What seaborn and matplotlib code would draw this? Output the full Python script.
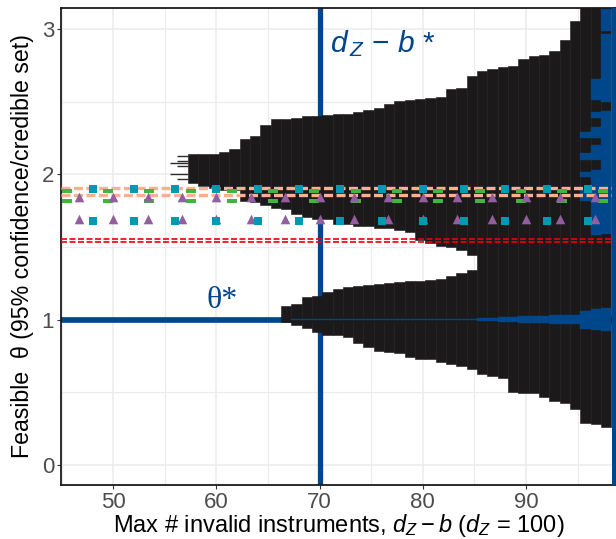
import matplotlib
matplotlib.use("Agg")
import matplotlib.pyplot as plt
import numpy as np
import pandas as pd
import seaborn as sns

# lancet-like palette used in the figure
BLUE = "#00468B"
RED = "#ED0000"
GREEN = "#42B540"
TEAL = "#0099B4"
PURPLE = "#925E9F"
SALMON = "#FDAF91"
BLACK = "#1B1919"

# ---- feasible set (black), one column per value of d_Z - b ----
col_left = [57.25 + i for i in range(41)]          # 57.25 .. 97.25
upper_top = [2.14, 2.14, 2.14, 2.157, 2.175, 2.242, 2.265, 2.34, 2.38, 2.385,
             2.39, 2.40, 2.405, 2.41, 2.414, 2.42, 2.428, 2.444, 2.46, 2.485,
             2.506, 2.512, 2.52, 2.529, 2.533, 2.586, 2.595, 2.676, 2.71, 2.728,
             2.742, 2.75, 2.797, 2.816, 2.823, 2.85, 2.926, 3.059, 3.4, 3.4, 3.4]
# lower edge of the upper piece (columns 57.25 .. 84.25)
upper_bottom = [1.938, 1.92, 1.91, 1.89, 1.89, 1.82, 1.81, 1.79, 1.77, 1.76,
                1.727, 1.708, 1.69, 1.69, 1.658, 1.658, 1.645, 1.645, 1.628, 1.628,
                1.617, 1.605, 1.548, 1.53, 1.51, 1.498, 1.482, 1.444]
# upper edge of the lower piece (columns 66.25 .. 84.25)
lower_top = [1.093, 1.107, 1.153, 1.162, 1.19, 1.208, 1.222, 1.231, 1.238, 1.245,
             1.249, 1.258, 1.263, 1.267, 1.272, 1.281, 1.30, 1.32, 1.34]
# lower edge of the set (columns 66.25 .. 97.25)
lower_bottom = [0.985, 0.962, 0.939, 0.916, 0.893, 0.893, 0.881, 0.836, 0.813, 0.785,
                0.774, 0.767, 0.739, 0.73, 0.726, 0.707, 0.691, 0.68, 0.657, 0.624,
                0.611, 0.597, 0.498, 0.497, 0.491, 0.468, 0.44, 0.422, 0.385, 0.29,
                0.28, 0.257]
# ragged left edge of the upper piece
ragged_theta = [2.129, 2.094, 2.081, 2.06, 2.003, 1.968]
ragged_start = [56.2, 56.2, 55.5, 56.2, 55.5, 56.2]

# ---- oracle set (blue) ----
oracle_left = [67.25 + i for i in range(31)]         # 67.25 .. 97.25
oracle_lo = [0.997] * 18 + [0.993, 0.99, 0.985, 0.985, 0.978, 0.978, 0.978,
                            0.969, 0.969, 0.969, 0.935, 0.928, 0.923]
oracle_hi = [1.006] * 18 + [1.010, 1.013, 1.019, 1.019, 1.026, 1.026, 1.026,
                            1.031, 1.031, 1.031, 1.061, 1.072, 1.081]
patch_left = [95.25, 95.25, 95.25, 95.25, 96.25, 96.25, 96.25, 96.25, 96.25,
              97.25, 97.25, 97.25]
patch_lo = [1.82, 1.98, 2.10, 2.25, 1.58, 2.10, 2.25, 2.39, 2.51, 1.59, 2.50, 2.99]
patch_hi = [1.89, 2.02, 2.15, 2.29, 2.03, 2.20, 2.33, 2.43, 2.66, 2.44, 2.97, 3.4]

# ---- other methods' intervals ----
teal_x = [48, 52, 56, 60, 64, 68, 72, 76, 80, 84, 88, 92, 96]
teal_y = [1.901, 1.681]
purple_x = [46.67, 50, 53.33, 56.67, 60, 63.33, 66.67, 70, 73.33, 76.67,
            80, 83.33, 86.67, 90, 93.33, 96.67]
purple_y = [1.846, 1.693]
green_x = [45.5, 49.5, 53.5, 57.5, 61.5, 65.5, 69.5, 73.5, 77.5, 81.5,
           85.5, 89.5, 93.5, 97.5]
green_y = [1.886, 1.817]
salmon_y = [1.908, 1.858]
red_y = [1.553, 1.538]

theta_star = 1.0
dz_minus_bstar = 70
right_line = 98.5

sns.set_theme(style="whitegrid")
plt.rcParams["font.family"] = ["Liberation Sans", "DejaVu Sans"]
plt.rcParams["mathtext.fontset"] = "custom"
plt.rcParams["mathtext.it"] = "Liberation Sans:italic"
plt.rcParams["mathtext.rm"] = "Liberation Sans"

fig = plt.figure(figsize=(6.16, 5.39), dpi=100)
ax = fig.add_axes([0.099, 0.1002, 0.901, 0.8857])

# reference lines (under the set)
ax.axhline(theta_star, color=BLUE, lw=4.1, zorder=1.5)
ax.axvline(dz_minus_bstar, color=BLUE, lw=3.8, zorder=1.5)

# feasible set
n_up = len(upper_bottom)
n_lo = len(lower_top)
lo_start = len(col_left) - len(lower_bottom)
kw = dict(width=1.0, align="edge", color=BLACK, edgecolor=BLACK, linewidth=0.4, zorder=2)
ax.bar(col_left[:n_up], np.array(upper_top[:n_up]) - np.array(upper_bottom),
       bottom=upper_bottom, **kw)
ax.bar(col_left[lo_start:lo_start + n_lo],
       np.array(lower_top) - np.array(lower_bottom[:n_lo]),
       bottom=lower_bottom[:n_lo], **kw)
ax.bar(col_left[n_up:], np.array(upper_top[n_up:]) - np.array(lower_bottom[n_lo:]),
       bottom=lower_bottom[n_lo:], **kw)
ax.hlines(ragged_theta, ragged_start, col_left[0], color="#2a2a2a", lw=1.0, zorder=2)

# oracle set
kw_b = dict(width=1.0, align="edge", color=BLUE, edgecolor=BLUE, linewidth=0.3, zorder=2.5)
ax.bar(oracle_left, np.array(oracle_hi) - np.array(oracle_lo), bottom=oracle_lo, **kw_b)
ax.bar(patch_left, np.array(patch_hi) - np.array(patch_lo), bottom=patch_lo, **kw_b)
ax.axvline(right_line, color=BLUE, lw=3.6, zorder=4)

# dashed interval bounds
for y in salmon_y:
    ax.axhline(y, color=SALMON, lw=2.4, ls=(0, (2.7, 1.05)), zorder=3)
for y in red_y:
    ax.axhline(y, color=RED, lw=1.2, ls=(0, (3.6, 1.5)), zorder=3)

# marker interval bounds
green_df = pd.DataFrame({"x": green_x * 2, "y": np.repeat(green_y, len(green_x))})
purple_df = pd.DataFrame({"x": purple_x * 2, "y": np.repeat(purple_y, len(purple_x))})
teal_df = pd.DataFrame({"x": teal_x * 2, "y": np.repeat(teal_y, len(teal_x))})
rect = [(-1, -0.45), (1, -0.45), (1, 0.45), (-1, 0.45)]
sns.scatterplot(data=green_df, x="x", y="y", marker=rect, s=44, color=GREEN,
                linewidth=0, ax=ax, zorder=3.2)
sns.scatterplot(data=purple_df, x="x", y="y", marker="^", s=48, color=PURPLE,
                linewidth=0, ax=ax, zorder=3.3)
sns.scatterplot(data=teal_df, x="x", y="y", marker="s", s=32, color=TEAL,
                linewidth=0, ax=ax, zorder=3.4)

# annotations
ax.text(59.0, 1.079, "θ*", color=BLUE, fontsize=23,
        family=["Liberation Serif", "DejaVu Serif"], ha="left", va="baseline", zorder=5)
ax.text(71.0, 2.846, r"$d_{\,Z}$ − $b$ *", color=BLUE, fontsize=21.5,
        ha="left", va="baseline", zorder=5)

# axes
ax.set_xlim(44.94, 98.72)
ax.set_ylim(-0.14, 3.15)
ax.set_xticks([50, 60, 70, 80, 90])
ax.set_xticks([45, 55, 65, 75, 85, 95], minor=True)
ax.set_yticks([0, 1, 2, 3])
ax.set_yticks([0.5, 1.5, 2.5], minor=True)
ax.grid(which="major", color="#EBEBEB", lw=1.1)
ax.grid(which="minor", color="#EBEBEB", lw=0.8)
ax.set_axisbelow(True)
ax.set_facecolor("white")
for s in ax.spines.values():
    s.set_visible(True)
    s.set_color("#1a1a1a")
    s.set_linewidth(1.3)
ax.tick_params(which="major", length=3, width=0.8, color="#333333",
               labelcolor="#4D4D4D", labelsize=16, pad=2,
               bottom=True, left=True)
ax.tick_params(which="minor", length=0)
ax.set_xlabel(r"Max # invalid instruments, $d_Z - b$ ($d_Z$ = 100)",
              fontsize=17, color="black", va="baseline")
ax.xaxis.set_label_coords(0.5, -0.098)
ax.set_ylabel("Feasible  θ (95% confidence/credible set)",
              fontsize=16.7, color="black", va="center")
ax.yaxis.set_label_coords(-0.07, 0.5)

fig.savefig("out.png", dpi=100)
